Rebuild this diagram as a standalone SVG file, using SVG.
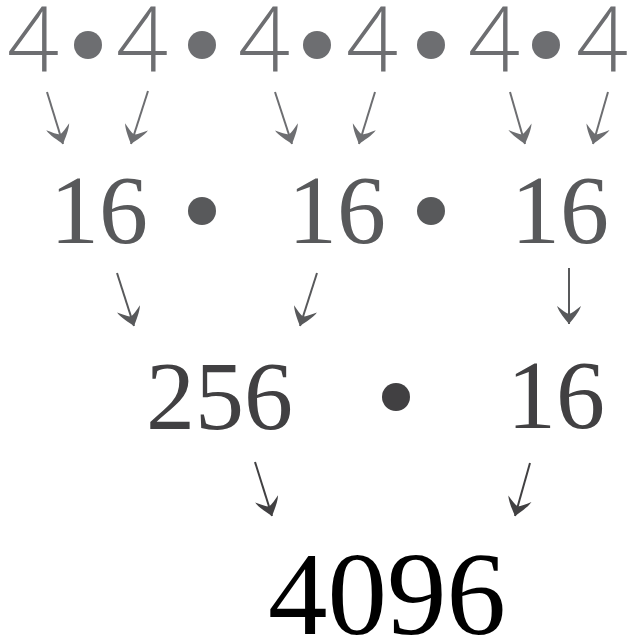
<svg xmlns="http://www.w3.org/2000/svg" width="631" height="639" viewBox="0 0 631 639">
<style>
.r1{font-family:"Open Sans","DejaVu Sans",sans-serif;font-weight:300;font-size:91px;fill:#6d6e71;text-anchor:middle}
.r2{font-family:"Liberation Serif","Times New Roman",serif;font-size:98px;fill:#58595b}
.r3{font-family:"Liberation Serif","Times New Roman",serif;font-size:98px;fill:#414042}
.r4{font-family:"Liberation Serif","Times New Roman",serif;font-size:119px;fill:#000000}
.a1{stroke:#6d6e71;stroke-width:2;fill:none;marker-end:url(#h1)}
.a2{stroke:#58595b;stroke-width:2;fill:none;marker-end:url(#h2)}
.a3{stroke:#414042;stroke-width:2;fill:none;marker-end:url(#h3)}
</style>
<defs>
<marker id="h1" viewBox="-20 -14 22 28" refX="0" refY="0" markerWidth="22" markerHeight="28" markerUnits="userSpaceOnUse" orient="auto"><path d="M0,0 C-5,-4 -12,-10 -18,-12 C-14,-7 -11,-3 -10,0 C-11,3 -14,7 -18,12 C-12,10 -5,4 0,0 Z" fill="#6d6e71"/></marker>
<marker id="h2" viewBox="-20 -14 22 28" refX="0" refY="0" markerWidth="22" markerHeight="28" markerUnits="userSpaceOnUse" orient="auto"><path d="M0,0 C-5,-4 -12,-10 -18,-12 C-14,-7 -11,-3 -10,0 C-11,3 -14,7 -18,12 C-12,10 -5,4 0,0 Z" fill="#58595b"/></marker>
<marker id="h3" viewBox="-20 -14 22 28" refX="0" refY="0" markerWidth="22" markerHeight="28" markerUnits="userSpaceOnUse" orient="auto"><path d="M0,0 C-5,-4 -12,-10 -18,-12 C-14,-7 -11,-3 -10,0 C-11,3 -14,7 -18,12 C-12,10 -5,4 0,0 Z" fill="#414042"/></marker>
</defs>
<rect width="631" height="639" fill="#ffffff"/>
<g id="row1">
<text class="r1" x="33" y="72">4</text>
<circle cx="88" cy="45" r="14" fill="#6d6e71"/>
<text class="r1" x="142" y="72">4</text>
<circle cx="202" cy="45" r="14" fill="#6d6e71"/>
<text class="r1" x="264" y="72">4</text>
<circle cx="317" cy="45" r="14" fill="#6d6e71"/>
<text class="r1" x="372" y="72">4</text>
<circle cx="431" cy="45" r="14" fill="#6d6e71"/>
<text class="r1" x="494" y="72">4</text>
<circle cx="546" cy="45" r="14" fill="#6d6e71"/>
<text class="r1" x="602" y="72">4</text>
</g>
<g id="row2">
<text class="r2" x="50" y="243">16</text>
<circle cx="202" cy="211" r="14" fill="#58595b"/>
<text class="r2" x="288" y="243">16</text>
<circle cx="431" cy="211" r="14" fill="#58595b"/>
<text class="r2" x="511" y="243">16</text>
</g>
<g id="row3">
<text class="r3" x="146" y="429">256</text>
<circle cx="396" cy="397" r="14" fill="#414042"/>
<text class="r3" x="507" y="428">16</text>
</g>
<g id="result">
<text class="r4" x="268" y="634">4096</text>
</g>
<g id="connectors">
<line class="a1" x1="47" y1="92" x2="63" y2="144"/>
<line class="a1" x1="148" y1="91" x2="131" y2="144"/>
<line class="a1" x1="275" y1="92" x2="292" y2="144"/>
<line class="a1" x1="375" y1="92" x2="359" y2="144"/>
<line class="a1" x1="510" y1="92" x2="525" y2="144"/>
<line class="a1" x1="608" y1="92" x2="593" y2="144"/>
<line class="a2" x1="117" y1="273" x2="134" y2="326"/>
<line class="a2" x1="317" y1="273" x2="300" y2="326"/>
<line class="a2" x1="569" y1="268" x2="569" y2="324"/>
<line class="a3" x1="255" y1="462" x2="272" y2="516"/>
<line class="a3" x1="530" y1="463" x2="515" y2="516"/>
</g>
</svg>
